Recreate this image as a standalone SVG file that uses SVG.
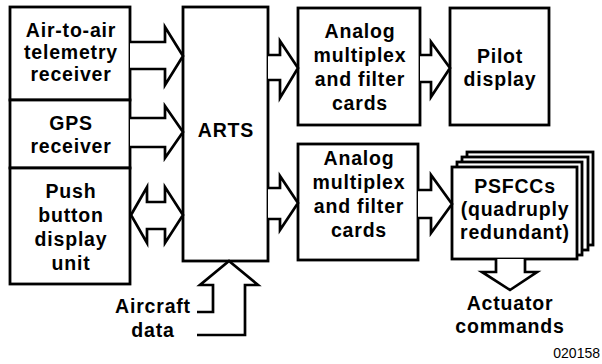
<svg xmlns="http://www.w3.org/2000/svg" width="602" height="364" viewBox="0 0 602 364">
<style>
.b{fill:#fff;stroke:#000;stroke-width:2.8}
.a{fill:#fff;stroke:#000;stroke-width:2.7;stroke-linejoin:miter}
text{font-family:"Liberation Sans",Arial,sans-serif;font-weight:bold;font-size:19.5px;letter-spacing:0.8px;text-anchor:middle;fill:#000}
.id{font-weight:normal;font-size:14px;letter-spacing:0;text-anchor:end}
</style>
<rect width="602" height="364" fill="#fff"/>
<g id="telemetry">
<rect class="b" x="10" y="7" width="120" height="93"/>
<text x="71" y="37">Air-to-air</text>
<text x="71" y="59">telemetry</text>
<text x="71" y="81">receiver</text>
</g>
<g id="gps">
<rect class="b" x="10" y="100" width="120" height="68"/>
<text x="71" y="130">GPS</text>
<text x="71" y="153">receiver</text>
</g>
<g id="pushbutton">
<rect class="b" x="10" y="168" width="120" height="116"/>
<text x="71" y="198">Push</text>
<text x="71" y="222">button</text>
<text x="71" y="246">display</text>
<text x="71" y="270">unit</text>
</g>
<g id="arts">
<rect class="b" x="183" y="7" width="85" height="254"/>
<text x="226" y="137">ARTS</text>
</g>
<g id="analog1">
<rect class="b" x="298" y="8" width="122" height="117"/>
<text x="360" y="38">Analog</text>
<text x="360" y="62">multiplex</text>
<text x="360" y="86">and filter</text>
<text x="360" y="110">cards</text>
</g>
<g id="pilot">
<rect class="b" x="450" y="8" width="99" height="117"/>
<text x="500" y="63">Pilot</text>
<text x="500" y="86">display</text>
</g>
<g id="analog2">
<rect class="b" x="298" y="144" width="120" height="116"/>
<text x="359" y="165">Analog</text>
<text x="359" y="189">multiplex</text>
<text x="359" y="213">and filter</text>
<text x="359" y="237">cards</text>
</g>
<g id="psfcc">
<rect class="b" x="467" y="152" width="126" height="93"/>
<rect class="b" x="462" y="157" width="126" height="93"/>
<rect class="b" x="457" y="162" width="125" height="93"/>
<rect class="b" x="452" y="167" width="125" height="92"/>
<text x="515" y="193">PSFCCs</text>
<text x="515" y="216">(quadruply</text>
<text x="515" y="239">redundant)</text>
</g>
<g id="labels">
<text x="153" y="313">Aircraft</text>
<text x="153" y="337">data</text>
<text x="510" y="310">Actuator</text>
<text x="510" y="333">commands</text>
<text class="id" x="600" y="358">020158</text>
</g>
<g id="connectors">
<path class="a" d="M130,42H165V27L183,56L165,85V69H130"/>
<path class="a" d="M130,118H165V106L183,132L165,158V147H130"/>
<path class="a" d="M131,215L147,187V202H165V187L183,215L165,243V229H147V243Z"/>
<path class="a" d="M268,55H280V41L298,68L280,98V80H268"/>
<path class="a" d="M268,188H280V176L298,203L280,230V219H268"/>
<path class="a" d="M420,55H431V42L450,68L431,97V82H420"/>
<path class="a" d="M418,190H431V175L452,204L431,233V218H418"/>
<path class="a" d="M496,259V272H482L510,290L537,272H525V259"/>
<path class="a" d="M197,312H213V285H200L229,261L258,285H245V335H197"/>
</g>
</svg>
